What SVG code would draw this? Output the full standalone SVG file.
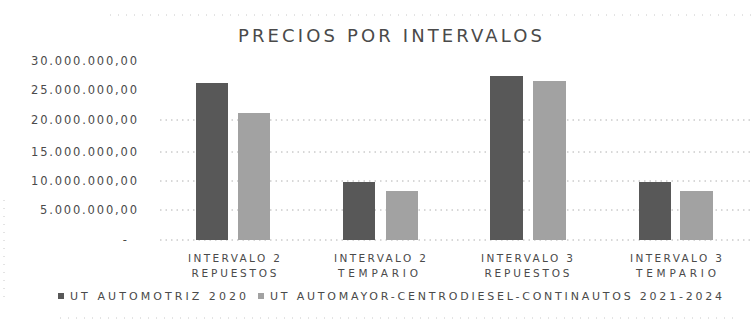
<svg xmlns="http://www.w3.org/2000/svg" width="751" height="328" viewBox="0 0 751 328">
<style>
.t{font-family:"DejaVu Sans","Liberation Sans",Arial,sans-serif;fill:#4a4a4a}
.ax{font-size:11.5px;text-anchor:end}
.cat{font-size:10.5px;text-anchor:middle}
.lg{font-size:11px}
.grid{stroke:#b0b0b0;stroke-width:1;stroke-dasharray:1.5 4}
.frame{stroke:#c8c8c8;stroke-width:1;stroke-dasharray:1 7;fill:none}
.d{fill:#585858}
.l{fill:#a2a2a2}
</style>
<rect width="751" height="328" fill="#fff"/>
<g id="frame">
<line class="frame" x1="110" y1="15" x2="751" y2="15"/>
<line class="frame" x1="60" y1="318" x2="740" y2="318"/>
<line class="frame" x1="4" y1="200" x2="4" y2="300"/>
</g>
<text id="title" class="t" x="238" y="42" font-size="18" textLength="304" lengthAdjust="spacing">PRECIOS POR INTERVALOS</text>
<g id="gridlines">
<line class="grid" x1="160" y1="120" x2="751" y2="120"/>
<line class="grid" x1="160" y1="152" x2="751" y2="152"/>
<line class="grid" x1="160" y1="181" x2="751" y2="181"/>
<line class="grid" x1="160" y1="210" x2="751" y2="210"/>
<line class="grid" x1="160" y1="240" x2="751" y2="240"/>
</g>
<g id="yaxis">
<text class="t ax" x="137" y="65" textLength="106" lengthAdjust="spacing">30.000.000,00</text>
<text class="t ax" x="137" y="94" textLength="106" lengthAdjust="spacing">25.000.000,00</text>
<text class="t ax" x="137" y="124" textLength="106" lengthAdjust="spacing">20.000.000,00</text>
<text class="t ax" x="137" y="156" textLength="106" lengthAdjust="spacing">15.000.000,00</text>
<text class="t ax" x="137" y="185" textLength="106" lengthAdjust="spacing">10.000.000,00</text>
<text class="t ax" x="137" y="214" textLength="97" lengthAdjust="spacing">5.000.000,00</text>
<text class="t ax" x="127" y="244">-</text>
</g>
<g id="g1">
<rect class="d" x="196" y="83" width="32" height="157"/>
<rect class="l" x="238" y="113" width="32" height="127"/>
<text class="t cat" x="234" y="262" textLength="92" lengthAdjust="spacing">INTERVALO 2</text>
<text class="t cat" x="234" y="277" textLength="85" lengthAdjust="spacing">REPUESTOS</text>
</g>
<g id="g2">
<rect class="d" x="343" y="182" width="32" height="58"/>
<rect class="l" x="386" y="191" width="32" height="49"/>
<text class="t cat" x="380" y="262" textLength="92" lengthAdjust="spacing">INTERVALO 2</text>
<text class="t cat" x="378" y="277" textLength="80" lengthAdjust="spacing">TEMPARIO</text>
</g>
<g id="g3">
<rect class="d" x="490" y="76" width="33" height="164"/>
<rect class="l" x="533" y="81" width="33" height="159"/>
<text class="t cat" x="527" y="262" textLength="92" lengthAdjust="spacing">INTERVALO 3</text>
<text class="t cat" x="527" y="277" textLength="85" lengthAdjust="spacing">REPUESTOS</text>
</g>
<g id="g4">
<rect class="d" x="639" y="182" width="32" height="58"/>
<rect class="l" x="680" y="191" width="33" height="49"/>
<text class="t cat" x="676" y="262" textLength="92" lengthAdjust="spacing">INTERVALO 3</text>
<text class="t cat" x="676" y="277" textLength="80" lengthAdjust="spacing">TEMPARIO</text>
</g>
<g id="legend">
<rect class="d" x="58" y="293" width="6" height="6"/>
<text class="t lg" x="70" y="300" textLength="176" lengthAdjust="spacing">UT AUTOMOTRIZ 2020</text>
<rect class="l" x="258" y="293" width="6" height="6"/>
<text class="t lg" x="270" y="300" textLength="452" lengthAdjust="spacing">UT AUTOMAYOR-CENTRODIESEL-CONTINAUTOS 2021-2024</text>
</g>
</svg>
